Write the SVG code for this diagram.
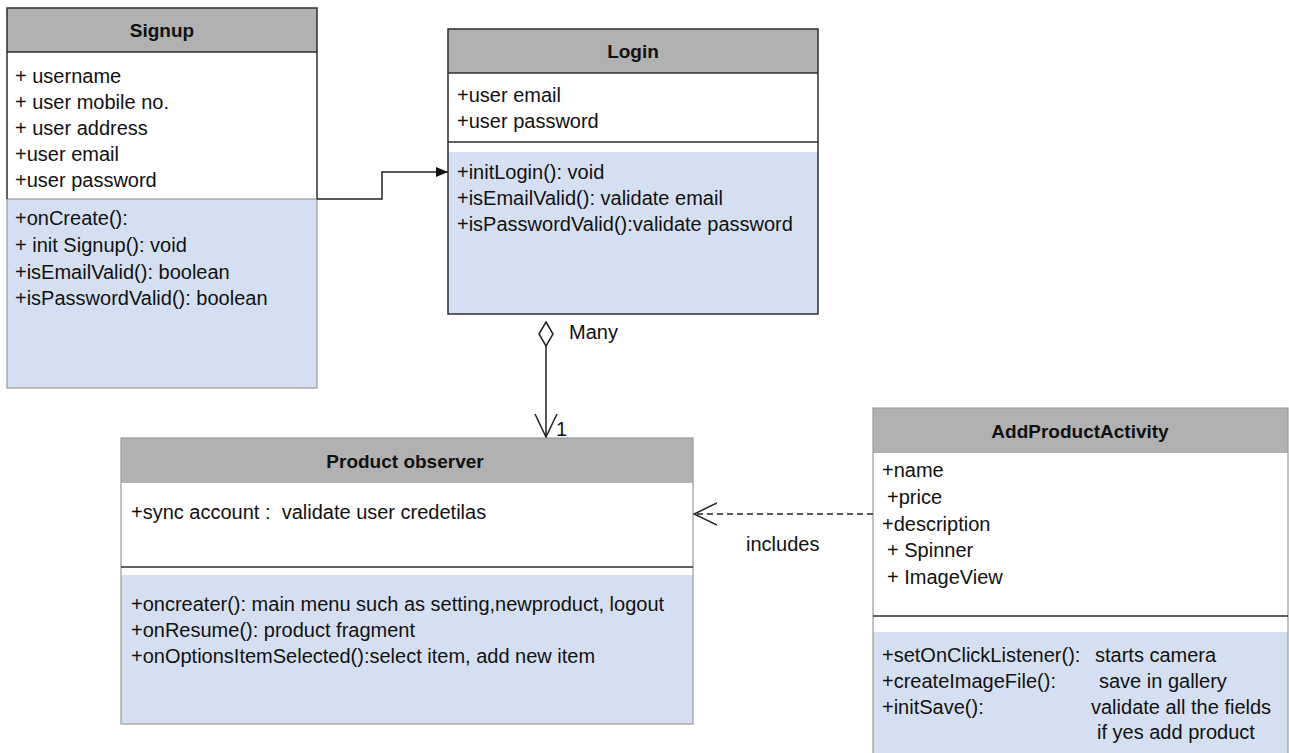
<svg xmlns="http://www.w3.org/2000/svg" width="1289" height="753" viewBox="0 0 1289 753">
  <style>
    .hdr { fill: #b1b1b1; }
    .att { fill: #ffffff; }
    .mth { fill: #d4e0f2; }
    .dark { fill: none; stroke: #2e2e2e; stroke-width: 1.5; }
    .soft { fill: none; stroke: #9a9a9a; stroke-width: 1.2; }
    .div { stroke: #2e2e2e; stroke-width: 1.5; }
    text { font-family: "Liberation Sans", Arial, Helvetica, sans-serif; fill: #111; }
    .title { font-size: 19px; font-weight: bold; text-anchor: middle; }
    .item { font-size: 20px; }
    .lbl { font-size: 20px; }
    .conn { fill: none; stroke: #222; stroke-width: 1.5; }
  </style>
  <defs>
    <marker id="solidArrow" viewBox="0 0 12 10" refX="12" refY="5" markerWidth="12" markerHeight="10" markerUnits="userSpaceOnUse" orient="auto">
      <path d="M0,0 L12,5 L0,10 Z" fill="#111"/>
    </marker>
    <marker id="openArrow" viewBox="0 0 24 24" refX="23" refY="12" markerWidth="24" markerHeight="24" markerUnits="userSpaceOnUse" orient="auto">
      <path d="M0,1 L23,12 L0,23" fill="none" stroke="#222" stroke-width="1.5"/>
    </marker>
    <marker id="aggDiamond" viewBox="0 0 26 16" refX="1" refY="8" markerWidth="26" markerHeight="16" markerUnits="userSpaceOnUse" orient="auto">
      <path d="M1,8 L13,1 L25,8 L13,15 Z" fill="#fff" stroke="#222" stroke-width="1.5"/>
    </marker>
  </defs>

  <!-- Signup class -->
  <g id="signup">
    <rect class="hdr" x="7" y="8" width="310" height="44"/>
    <rect class="att" x="7" y="52" width="310" height="147"/>
    <rect class="mth" x="7" y="199" width="310" height="189"/>
    <rect class="soft" x="7" y="199" width="310" height="189"/>
    <path class="dark" d="M7,199 V8 H317 V199"/>
    <line class="div" x1="7" y1="52" x2="317" y2="52"/>
    <text class="title" x="162" y="37">Signup</text>
    <text class="item" x="15" y="83">+ username</text>
    <text class="item" x="15" y="109">+ user mobile no.</text>
    <text class="item" x="15" y="135">+ user address</text>
    <text class="item" x="15" y="161">+user email</text>
    <text class="item" x="15" y="187">+user password</text>
    <text class="item" x="15" y="225">+onCreate():</text>
    <text class="item" x="15" y="252">+ init Signup(): void</text>
    <text class="item" x="15" y="279">+isEmailValid(): boolean</text>
    <text class="item" x="15" y="305">+isPasswordValid(): boolean</text>
  </g>

  <!-- Login class -->
  <g id="login">
    <rect class="hdr" x="448" y="29" width="370" height="44"/>
    <rect class="att" x="448" y="73" width="370" height="79"/>
    <rect class="mth" x="448" y="152" width="370" height="162"/>
    <rect class="dark" x="448" y="29" width="370" height="285"/>
    <line class="div" x1="448" y1="73" x2="818" y2="73"/>
    <line class="div" x1="448" y1="142" x2="818" y2="142"/>
    <text class="title" x="633" y="58">Login</text>
    <text class="item" x="457" y="102">+user email</text>
    <text class="item" x="457" y="128">+user password</text>
    <text class="item" x="457" y="179">+initLogin(): void</text>
    <text class="item" x="457" y="205">+isEmailValid(): validate email</text>
    <text class="item" x="457" y="231">+isPasswordValid():validate password</text>
  </g>

  <!-- Product observer class -->
  <g id="product-observer">
    <rect class="hdr" x="121" y="438" width="572" height="45"/>
    <rect class="att" x="121" y="483" width="572" height="92"/>
    <rect class="mth" x="121" y="575" width="572" height="149"/>
    <rect class="soft" x="121" y="438" width="572" height="286"/>
    <line class="div" x1="121" y1="567" x2="693" y2="567"/>
    <text class="title" x="405" y="468">Product observer</text>
    <text class="item" x="131" y="519" xml:space="preserve">+sync account :  validate user credetilas</text>
    <text class="item" x="131" y="611">+oncreater(): main menu such as setting,newproduct, logout</text>
    <text class="item" x="131" y="637">+onResume(): product fragment</text>
    <text class="item" x="131" y="663">+onOptionsItemSelected():select item, add new item</text>
  </g>

  <!-- AddProductActivity class -->
  <g id="add-product-activity">
    <rect class="hdr" x="873" y="408" width="415" height="45"/>
    <rect class="att" x="873" y="453" width="415" height="179"/>
    <rect class="mth" x="873" y="632" width="415" height="121"/>
    <path class="soft" d="M873,753 V408 H1288 V753"/>
    <line class="div" x1="873" y1="616" x2="1288" y2="616"/>
    <text class="title" x="1080" y="438">AddProductActivity</text>
    <text class="item" x="882" y="477">+name</text>
    <text class="item" x="887" y="504">+price</text>
    <text class="item" x="882" y="531">+description</text>
    <text class="item" x="887" y="557">+ Spinner</text>
    <text class="item" x="887" y="584">+ ImageView</text>
    <text class="item" x="882" y="662">+setOnClickListener():</text>
    <text class="item" x="1095" y="662">starts camera</text>
    <text class="item" x="882" y="688">+createImageFile():</text>
    <text class="item" x="1099" y="688">save in gallery</text>
    <text class="item" x="882" y="714">+initSave():</text>
    <text class="item" x="1091" y="714">validate all the fields</text>
    <text class="item" x="1097" y="739">if yes add product</text>
  </g>

  <!-- Connectors -->
  <g id="connectors">
    <path class="conn" d="M317,199 H382 V172 H448" marker-end="url(#solidArrow)"/>
    <path class="conn" d="M546,322 V437" marker-start="url(#aggDiamond)" marker-end="url(#openArrow)"/>
    <path class="conn" d="M873,514 H694" stroke-dasharray="6,4" marker-end="url(#openArrow)"/>
    <text class="lbl" x="569" y="339">Many</text>
    <text class="lbl" x="556" y="436">1</text>
    <text class="lbl" x="746" y="551">includes</text>
  </g>
</svg>
